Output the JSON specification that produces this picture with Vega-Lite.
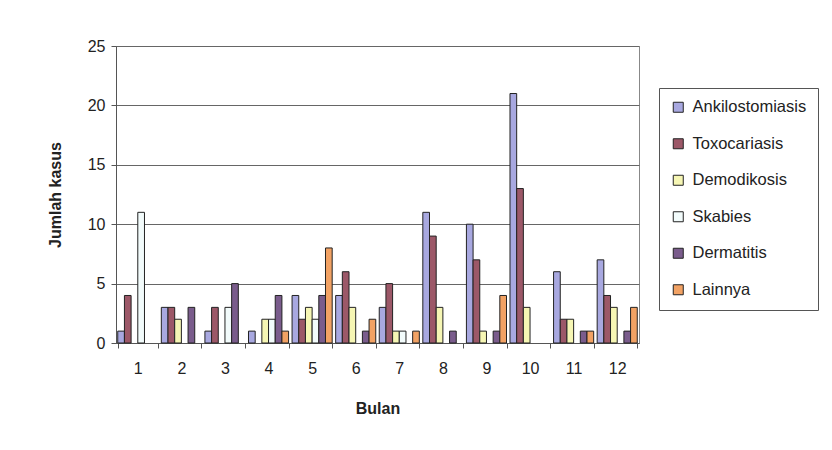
{
  "$schema": "https://vega.github.io/schema/vega-lite/v6.json",
  "autosize": "none",
  "width": 523,
  "height": 297,
  "padding": {"left": 116, "top": 46, "right": 193, "bottom": 107},
  "background": "white",
  "config": {
    "font": "Liberation Sans",
    "view": {"stroke": "#888888", "strokeWidth": 1}
  },
  "data": {
    "values": [
      {"bulan": "1", "penyakit": "Ankilostomiasis", "kasus": 1},
      {"bulan": "1", "penyakit": "Toxocariasis", "kasus": 4},
      {"bulan": "1", "penyakit": "Skabies", "kasus": 11},
      {"bulan": "2", "penyakit": "Ankilostomiasis", "kasus": 3},
      {"bulan": "2", "penyakit": "Toxocariasis", "kasus": 3},
      {"bulan": "2", "penyakit": "Demodikosis", "kasus": 2},
      {"bulan": "2", "penyakit": "Dermatitis", "kasus": 3},
      {"bulan": "3", "penyakit": "Ankilostomiasis", "kasus": 1},
      {"bulan": "3", "penyakit": "Toxocariasis", "kasus": 3},
      {"bulan": "3", "penyakit": "Skabies", "kasus": 3},
      {"bulan": "3", "penyakit": "Dermatitis", "kasus": 5},
      {"bulan": "4", "penyakit": "Ankilostomiasis", "kasus": 1},
      {"bulan": "4", "penyakit": "Demodikosis", "kasus": 2},
      {"bulan": "4", "penyakit": "Skabies", "kasus": 2},
      {"bulan": "4", "penyakit": "Dermatitis", "kasus": 4},
      {"bulan": "4", "penyakit": "Lainnya", "kasus": 1},
      {"bulan": "5", "penyakit": "Ankilostomiasis", "kasus": 4},
      {"bulan": "5", "penyakit": "Toxocariasis", "kasus": 2},
      {"bulan": "5", "penyakit": "Demodikosis", "kasus": 3},
      {"bulan": "5", "penyakit": "Skabies", "kasus": 2},
      {"bulan": "5", "penyakit": "Dermatitis", "kasus": 4},
      {"bulan": "5", "penyakit": "Lainnya", "kasus": 8},
      {"bulan": "6", "penyakit": "Ankilostomiasis", "kasus": 4},
      {"bulan": "6", "penyakit": "Toxocariasis", "kasus": 6},
      {"bulan": "6", "penyakit": "Demodikosis", "kasus": 3},
      {"bulan": "6", "penyakit": "Dermatitis", "kasus": 1},
      {"bulan": "6", "penyakit": "Lainnya", "kasus": 2},
      {"bulan": "7", "penyakit": "Ankilostomiasis", "kasus": 3},
      {"bulan": "7", "penyakit": "Toxocariasis", "kasus": 5},
      {"bulan": "7", "penyakit": "Demodikosis", "kasus": 1},
      {"bulan": "7", "penyakit": "Skabies", "kasus": 1},
      {"bulan": "7", "penyakit": "Lainnya", "kasus": 1},
      {"bulan": "8", "penyakit": "Ankilostomiasis", "kasus": 11},
      {"bulan": "8", "penyakit": "Toxocariasis", "kasus": 9},
      {"bulan": "8", "penyakit": "Demodikosis", "kasus": 3},
      {"bulan": "8", "penyakit": "Dermatitis", "kasus": 1},
      {"bulan": "9", "penyakit": "Ankilostomiasis", "kasus": 10},
      {"bulan": "9", "penyakit": "Toxocariasis", "kasus": 7},
      {"bulan": "9", "penyakit": "Demodikosis", "kasus": 1},
      {"bulan": "9", "penyakit": "Dermatitis", "kasus": 1},
      {"bulan": "9", "penyakit": "Lainnya", "kasus": 4},
      {"bulan": "10", "penyakit": "Ankilostomiasis", "kasus": 21},
      {"bulan": "10", "penyakit": "Toxocariasis", "kasus": 13},
      {"bulan": "10", "penyakit": "Demodikosis", "kasus": 3},
      {"bulan": "11", "penyakit": "Ankilostomiasis", "kasus": 6},
      {"bulan": "11", "penyakit": "Toxocariasis", "kasus": 2},
      {"bulan": "11", "penyakit": "Demodikosis", "kasus": 2},
      {"bulan": "11", "penyakit": "Dermatitis", "kasus": 1},
      {"bulan": "11", "penyakit": "Lainnya", "kasus": 1},
      {"bulan": "12", "penyakit": "Ankilostomiasis", "kasus": 7},
      {"bulan": "12", "penyakit": "Toxocariasis", "kasus": 4},
      {"bulan": "12", "penyakit": "Demodikosis", "kasus": 3},
      {"bulan": "12", "penyakit": "Dermatitis", "kasus": 1},
      {"bulan": "12", "penyakit": "Lainnya", "kasus": 3}
    ]
  },
  "mark": {"type": "bar", "stroke": "#222222", "strokeWidth": 1},
  "encoding": {
    "x": {
      "field": "bulan",
      "type": "nominal",
      "sort": ["1","2","3","4","5","6","7","8","9","10","11","12"],
      "scale": {"domain": ["1","2","3","4","5","6","7","8","9","10","11","12"], "paddingInner": 0.08, "paddingOuter": 0.04},
      "axis": {
        "title": "Bulan",
        "titleFontSize": 16,
        "titleFontWeight": "bold",
        "titleColor": "#222222",
        "titlePadding": 24,
        "labelAngle": 0,
        "labelFontSize": 16,
        "labelColor": "#222222",
        "labelPadding": 12,
        "tickBand": "extent",
        "tickColor": "#555555",
        "tickSize": 5,
        "domainColor": "#555555",
        "grid": false
      }
    },
    "xOffset": {
      "field": "penyakit",
      "type": "nominal",
      "scale": {"domain": ["Ankilostomiasis","Toxocariasis","Demodikosis","Skabies","Dermatitis","Lainnya"]}
    },
    "y": {
      "field": "kasus",
      "type": "quantitative",
      "scale": {"domain": [0, 25]},
      "axis": {
        "title": "Jumlah kasus",
        "titleFontSize": 16,
        "titleFontWeight": "bold",
        "titleColor": "#222222",
        "titlePadding": 24,
        "values": [0,5,10,15,20,25],
        "labelFontSize": 16,
        "labelColor": "#222222",
        "labelPadding": 6,
        "tickSize": 5,
        "tickColor": "#555555",
        "domainColor": "#555555",
        "gridColor": "#666666",
        "gridWidth": 1
      }
    },
    "color": {
      "field": "penyakit",
      "type": "nominal",
      "scale": {
        "domain": ["Ankilostomiasis","Toxocariasis","Demodikosis","Skabies","Dermatitis","Lainnya"],
        "range": ["#a8a8e0","#9c5868","#f6f6b4","#f2fbfb","#7a5c8c","#f2a264"]
      },
      "legend": {
        "title": null,
        "orient": "none",
        "legendX": 543,
        "legendY": 42,
        "strokeColor": "#555555",
        "padding": 11,
        "symbolType": "square",
        "symbolSize": 100,
        "symbolStrokeColor": "#222222",
        "symbolStrokeWidth": 1,
        "labelFontSize": 16.5,
        "labelColor": "#222222",
        "labelLimit": 200,
        "rowPadding": 19.5,
        "labelOffset": 6
      }
    }
  }
}
